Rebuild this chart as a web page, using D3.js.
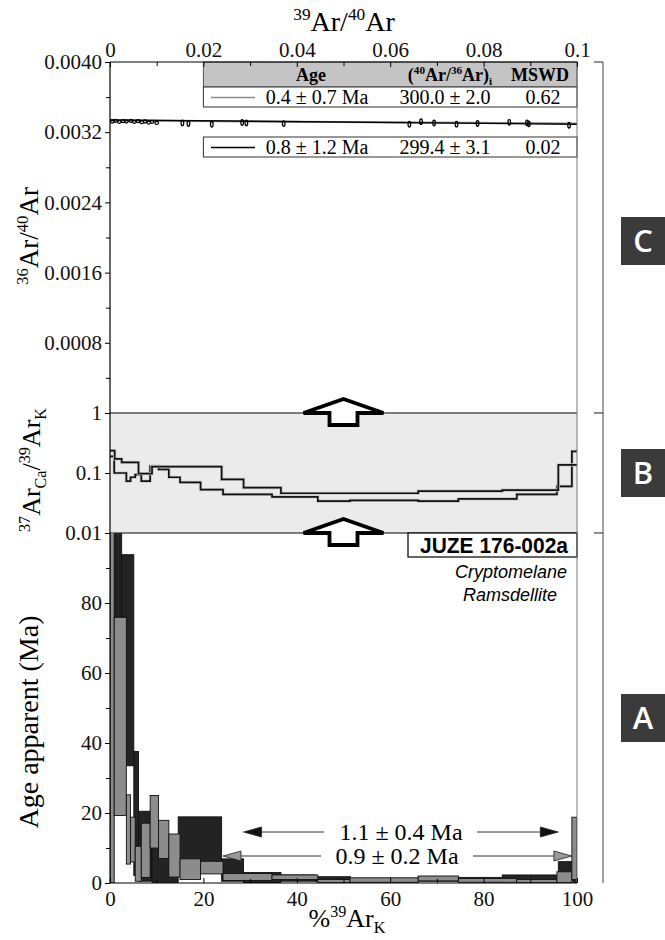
<!DOCTYPE html>
<html><head><meta charset="utf-8">
<script src="https://cdn.jsdelivr.net/npm/d3@7"></script>
<style>body{margin:0;background:#fff}svg{display:block}
.ax text{font-family:'Liberation Serif','Times New Roman',serif !important;}
</style>
</head><body>
<script>
// ================= DATA =================
// Black experiment: cumulative %39ArK step boundaries, apparent ages (Ma), half widths, Ca/K
const blackBounds = [0,1.0,2.5,5.1,6.1,9.0,14.6,23.9,28.6,36.6,44.0,51.5,66.0,74.5,84.0,96.0,99.3,100];
const blackAge = [80,80,63.65,19.85,10.5,6.55,11.7,3.7,1.5,1.4,1.1,0.8,1.15,1.0,1.4,3.3,1.85];
const blackErr = [50,50,30.15,17.75,10.0,6.35,7.2,3.2,1.5,0.9,0.7,0.5,0.65,0.6,0.9,2.8,1.85];
const blackCaK = [0.236,0.172,0.15,0.15,0.098,0.128,0.128,0.078,0.057,0.046,0.046,0.046,0.05,0.05,0.052,0.137,0.137];

// Gray experiment
const grayBounds = [0,0.9,3.5,4.4,5.4,6.7,8.6,10.4,12.6,15.0,19.4,24.2,34.7,44.5,51.4,66.0,74.6,87.1,95.7,98.9,100];
const grayAge = [65,47.6,15.3,12.4,5.5,9.35,17.5,12.45,7.85,3.95,4.4,1.7,1.65,0.55,0.85,1.3,0.75,0.55,1.65,9.9];
const grayErr = [65,28.3,9.9,6.4,5.0,7.75,7.5,5.45,6.15,2.95,1.8,1.0,0.65,0.45,0.65,0.7,0.55,0.45,1.55,8.9];
const grayCaK = [0.19,0.10,0.073,0.085,0.094,0.073,0.13,0.115,0.085,0.07,0.053,0.044,0.040,0.034,0.035,0.034,0.037,0.044,0.06,0.23];

// Plateau ages
const plateauLabels = ["1.1 ± 0.4 Ma","0.9 ± 0.2 Ma"];
const plateauFrom = [28.6,24.2];
const plateauTo = [96.0,98.9];

// Inverse isochron (panel C)
const isoX = [0.0005,0.0012,0.0020,0.0028,0.0035,0.0045,0.0052,0.0060,0.0068,0.0075,0.0083,0.0090,0.0100,
              0.0155,0.0168,0.0218,0.0283,0.0292,0.0372,0.0641,0.0666,0.0694,0.0742,0.0787,0.0855,0.0893,0.0897,0.0983];
const isoY = [0.003322,0.003330,0.003318,0.003326,0.003322,0.003330,0.003318,0.003326,0.003314,0.003322,0.003310,0.003318,0.003306,
              0.003306,0.003300,0.003290,0.003310,0.003306,0.003298,0.003290,0.003320,0.003305,0.003292,0.003300,0.003312,0.003306,0.003295,0.003280];
const isoAges = ["0.4 ± 0.7 Ma","0.8 ± 1.2 Ma"];
const isoRatios = ["300.0 ± 2.0","299.4 ± 3.1"];
const isoMswd = ["0.62","0.02"];
const isoInitial = [300.0,299.4];
const isoEnd = [0.003300,0.003290];   // 36/40 value of each isochron at 39/40 = 0.1

// Axis ticks
const xTopTicks = [0,0.02,0.04,0.06,0.08,0.1];
const xTopLabels = ["0","0.02","0.04","0.06","0.08","0.1"];
const xTopMinor = [0.01,0.03,0.05,0.07,0.09];
const yCTicks = [0.0008,0.0016,0.0024,0.0032,0.0040];
const yCLabels = ["0.0008","0.0016","0.0024","0.0032","0.0040"];
const yCMinor = [0.0004,0.0012,0.0020,0.0028,0.0036];
const yBTicks = [0.01,0.1,1];
const yBLabels = ["0.01","0.1","1"];
const yATicks = [0,20,40,60,80];
const yAMinor = [10,30,50,70,90];
const xATicks = [0,20,40,60,80,100];
const xAMinor = [10,30,50,70,90];
const panelTags = ["C","B","A"];

// ================= LAYOUT =================
const SERIF = "'Liberation Serif','Times New Roman',serif";
const W = 665, H = 940;
const L = 110, R = 577;
const yTopC = 62, yBotC = 413, yBotB = 533, yBotA = 883;

const svg = d3.select("body").append("svg").attr("width", W).attr("height", H)
  .attr("font-family", SERIF);

const xTop = d3.scaleLinear().domain([0,0.1]).range([L,R]);
const yC = d3.scaleLinear().domain([0,0.004]).range([yBotC,yTopC]);
const yB = d3.scaleLog().domain([0.01,1]).range([yBotB,yBotC]);
const xA = d3.scaleLinear().domain([0,100]).range([L,R]);
const yA = d3.scaleLinear().domain([0,100]).range([yBotA,yBotB]);

function rich(parent, x, y, segs, size, anchor, weight) {
  const t = parent.append("text").attr("x", x).attr("y", y)
    .attr("font-size", size).attr("text-anchor", anchor || "middle")
    .attr("font-family", SERIF).attr("font-weight", weight || "normal");
  let cur = 0;
  segs.forEach(s => {
    const target = s.sup ? -0.38*size : s.sub ? 0.22*size : 0;
    const ts = t.append("tspan").text(s.t).attr("dy", target - cur);
    if (s.sup || s.sub) ts.attr("font-size", size*0.62);
    cur = target;
  });
  return t;
}

// ---------- Panel B background ----------
svg.append("rect").attr("x", L).attr("y", yB(1)).attr("width", R-L).attr("height", yB(0.01)-yB(1))
  .attr("fill", "#ebebeb");

// ---------- Panel C : isochron ----------
svg.append("clipPath").attr("id","clipC").append("rect")
  .attr("x",L).attr("y",yTopC).attr("width",R-L).attr("height",yBotC-yTopC);
const gC = svg.append("g").attr("clip-path","url(#clipC)");
const isoColors = ["#8a8a8a","#000"];
[0,1].forEach(i => {
  gC.append("line").attr("x1", xTop(0)).attr("y1", yC(1/isoInitial[i]))
    .attr("x2", xTop(0.1)).attr("y2", yC(isoEnd[i]))
    .attr("stroke", isoColors[i]).attr("stroke-width", i===0?2:1.4);
});
gC.selectAll("ellipse.pt").data(isoX).join("ellipse")
  .attr("cx", d => xTop(d)).attr("cy", (d,i) => yC(isoY[i]))
  .attr("rx", d => d < 0.011 ? 1.8 : 1.3).attr("ry", d => d < 0.011 ? 1.5 : 2.8)
  .attr("fill","none").attr("stroke","#000").attr("stroke-width",1.3);

// table
const tX0 = xTop(0.02);
const hdr = svg.append("g");
hdr.append("rect").attr("x",tX0).attr("y",yTopC).attr("width",R-tX0).attr("height",25)
  .attr("fill","#c4c4c4").attr("stroke","#555").attr("stroke-width",1);
rich(hdr, 311, 81, [{t:"Age"}], 18, "middle", "bold");
rich(hdr, 450, 81, [{t:"("},{t:"40",sup:true},{t:"Ar/"},{t:"36",sup:true},{t:"Ar)"},{t:"i",sub:true}], 18, "middle", "bold");
rich(hdr, 540, 81, [{t:"MSWD"}], 18, "middle", "bold");
const rowTop = [87, 137];
[0,1].forEach(i => {
  const g = svg.append("g");
  g.append("rect").attr("x",tX0).attr("y",rowTop[i]).attr("width",R-tX0).attr("height",20)
    .attr("fill","#fff").attr("stroke","#333").attr("stroke-width",1);
  g.append("line").attr("x1",211).attr("x2",255).attr("y1",rowTop[i]+10.5).attr("y2",rowTop[i]+10.5)
    .attr("stroke", isoColors[i]).attr("stroke-width", 1.5);
  rich(g, 317, rowTop[i]+16.5, [{t:isoAges[i]}], 20);
  rich(g, 445, rowTop[i]+16.5, [{t:isoRatios[i]}], 20);
  rich(g, 543, rowTop[i]+16.5, [{t:isoMswd[i]}], 20);
});

// ---------- Panel B : Ca/K ----------
function stepPts(bounds, vals) {
  const pts = vals.map((v,i) => [bounds[i], v]);
  pts.push([bounds[bounds.length-1], vals[vals.length-1]]);
  return pts;
}
const lineB = d3.line().x(d => xA(d[0])).y(d => yB(d[1])).curve(d3.curveStepAfter);
[[grayBounds, grayCaK],[blackBounds, blackCaK]].forEach(([b,v]) => {
  svg.append("path").attr("d", lineB(stepPts(b, v)))
    .attr("fill","none").attr("stroke","#c8c8c8").attr("stroke-width",3.2);
  svg.append("path").attr("d", lineB(stepPts(b, v)))
    .attr("fill","none").attr("stroke","#111").attr("stroke-width",1.7);
});

svg.append("line").attr("x1",L).attr("x2",R).attr("y1",yB(1)).attr("y2",yB(1)).attr("stroke","#555").attr("stroke-width",1.4);
svg.append("line").attr("x1",L).attr("x2",R).attr("y1",yB(0.01)).attr("y2",yB(0.01)).attr("stroke","#555").attr("stroke-width",1.4);

// hollow up arrows
function upArrow(cx, baseY) {
  const p = d3.path();
  p.moveTo(cx, baseY-14); p.lineTo(cx+40, baseY); p.lineTo(cx+14, baseY); p.lineTo(cx+14, baseY+12);
  p.lineTo(cx-14, baseY+12); p.lineTo(cx-14, baseY); p.lineTo(cx-40, baseY); p.closePath();
  svg.append("path").attr("d", p.toString()).attr("fill","#fff").attr("stroke","#000")
    .attr("stroke-width",3.8).attr("stroke-linejoin","miter");
}
upArrow(xA(50), yB(1));
upArrow(xA(50), yB(0.01));

// ---------- Panel A : age spectrum ----------
svg.append("clipPath").attr("id","clipA").append("rect")
  .attr("x",L).attr("y",yBotB).attr("width",R-L).attr("height",yBotA-yBotB);
const gA = svg.append("g").attr("clip-path","url(#clipA)");
function steps(bounds, ages, errs, fill) {
  gA.append("g").selectAll("rect").data(ages).join("rect")
    .attr("x", (d,i) => xA(bounds[i]))
    .attr("width", (d,i) => xA(bounds[i+1]) - xA(bounds[i]))
    .attr("y", (d,i) => yA(d + errs[i]))
    .attr("height", (d,i) => yA(d - errs[i]) - yA(d + errs[i]))
    .attr("fill", fill).attr("stroke","#111").attr("stroke-width",0.9);
}
steps(blackBounds, blackAge, blackErr, "#232323");
steps(grayBounds, grayAge, grayErr, "#8c8c8c");

// plateau arrows
const plY = [832, 856];
const plGapL = [324, 321], plGapR = [477, 473];
const plHead = ["#111","#999"];
const plTextX = [401, 397];
[0,1].forEach(i => {
  const x0 = xA(plateauFrom[i]), x1 = xA(plateauTo[i]), y = plY[i];
  const g = svg.append("g");
  g.append("line").attr("x1",x0+18).attr("x2",plGapL[i]).attr("y1",y).attr("y2",y).attr("stroke","#333").attr("stroke-width",1);
  g.append("line").attr("x1",plGapR[i]).attr("x2",x1-18).attr("y1",y).attr("y2",y).attr("stroke","#333").attr("stroke-width",1);
  g.append("path").attr("d",`M${x0},${y}L${x0+18},${y-5}L${x0+18},${y+5}Z`).attr("fill",plHead[i]).attr("stroke","#222").attr("stroke-width",0.8);
  g.append("path").attr("d",`M${x1},${y}L${x1-18},${y-5}L${x1-18},${y+5}Z`).attr("fill",plHead[i]).attr("stroke","#222").attr("stroke-width",0.8);
  rich(g, plTextX[i], y+8, [{t:plateauLabels[i]}], 24);
});

// sample label
svg.append("rect").attr("x",408).attr("y",yBotB).attr("width",R-408).attr("height",24)
  .attr("fill","#fff").attr("stroke","#000").attr("stroke-width",1.2);
svg.append("text").attr("x",568).attr("y",553).attr("text-anchor","end")
  .attr("font-family","'Liberation Sans Narrow','Liberation Sans',sans-serif").attr("font-weight","bold")
  .attr("font-size",22).attr("textLength",148).attr("lengthAdjust","spacingAndGlyphs").text("JUZE 176-002a");
svg.append("text").attr("x",567).attr("y",578).attr("text-anchor","end")
  .attr("font-family","'Liberation Sans',sans-serif").attr("font-style","italic").attr("font-size",18).text("Cryptomelane");
svg.append("text").attr("x",557).attr("y",601).attr("text-anchor","end")
  .attr("font-family","'Liberation Sans',sans-serif").attr("font-style","italic").attr("font-size",18).text("Ramsdellite");

// ---------- Frame & axes ----------
svg.append("line").attr("x1",L).attr("x2",L).attr("y1",yTopC).attr("y2",yBotA).attr("stroke","#000").attr("stroke-width",1.2);
svg.append("line").attr("x1",R).attr("x2",R).attr("y1",yTopC).attr("y2",yBotA).attr("stroke","#777").attr("stroke-width",1);
svg.append("line").attr("x1",L).attr("x2",R).attr("y1",yTopC).attr("y2",yTopC).attr("stroke","#000").attr("stroke-width",1.2);
svg.append("line").attr("x1",L).attr("x2",R).attr("y1",yBotA).attr("y2",yBotA).attr("stroke","#000").attr("stroke-width",1.2);

function styleAxis(g) {
  g.attr("class","ax");
  g.select(".domain").remove();
  g.attr("font-family", SERIF).attr("font-size", 21);
  g.selectAll("text").attr("font-family", SERIF).style("font-family", SERIF).attr("font-size", 21).attr("fill","#111");
  g.selectAll("line").attr("stroke","#000");
}
svg.append("g").attr("transform",`translate(0,${yTopC})`)
  .call(d3.axisTop(xTop).tickValues(xTopTicks).tickFormat((d,i)=>xTopLabels[i]).tickSizeInner(-5).tickSizeOuter(0).tickPadding(5))
  .call(styleAxis);
svg.append("g").attr("transform",`translate(0,${yTopC})`)
  .call(d3.axisTop(xTop).tickValues(xTopMinor).tickFormat("").tickSizeInner(-4).tickSizeOuter(0))
  .call(styleAxis);
svg.append("g").attr("transform",`translate(${L},0)`)
  .call(d3.axisLeft(yC).tickValues(yCTicks).tickFormat((d,i)=>yCLabels[i]).tickSize(5).tickPadding(3))
  .call(styleAxis);
svg.append("g").attr("transform",`translate(${L},0)`)
  .call(d3.axisLeft(yC).tickValues(yCMinor).tickFormat("").tickSize(4))
  .call(styleAxis);
svg.append("g").attr("transform",`translate(${L},0)`)
  .call(d3.axisLeft(yB).tickValues(yBTicks).tickFormat((d,i)=>yBLabels[i]).tickSize(5).tickPadding(3))
  .call(styleAxis);
svg.append("g").attr("transform",`translate(${L},0)`)
  .call(d3.axisLeft(yA).tickValues(yATicks).tickFormat(d3.format("d")).tickSize(5).tickPadding(3))
  .call(styleAxis);
svg.append("g").attr("transform",`translate(${L},0)`)
  .call(d3.axisLeft(yA).tickValues(yAMinor).tickFormat("").tickSize(4))
  .call(styleAxis);
svg.append("g").attr("transform",`translate(0,${yBotA})`)
  .call(d3.axisBottom(xA).tickValues(xATicks).tickFormat(d3.format("d")).tickSizeInner(-5).tickSizeOuter(0).tickPadding(8))
  .call(styleAxis);
svg.append("g").attr("transform",`translate(0,${yBotA})`)
  .call(d3.axisBottom(xA).tickValues(xAMinor).tickFormat("").tickSizeInner(-4).tickSizeOuter(0))
  .call(styleAxis);

// axis titles
rich(svg, 344, 31, [{t:"39",sup:true},{t:"Ar/"},{t:"40",sup:true},{t:"Ar"}], 28);
rich(svg, 347, 927, [{t:"%"},{t:"39",sup:true},{t:"Ar"},{t:"K",sub:true}], 26);
rich(svg.append("g").attr("transform","translate(38,236) rotate(-90)"), 0, 0,
  [{t:"36",sup:true},{t:"Ar/"},{t:"40",sup:true},{t:"Ar"}], 27);
rich(svg.append("g").attr("transform","translate(40,470) rotate(-90)"), 0, 0,
  [{t:"37",sup:true},{t:"Ar"},{t:"Ca",sub:true},{t:"/"},{t:"39",sup:true},{t:"Ar"},{t:"K",sub:true}], 26);
rich(svg.append("g").attr("transform","translate(38,722) rotate(-90)"), 0, 0,
  [{t:"Age apparent (Ma)"}], 28);

// right bracket and panel tags
const bx = 603;
svg.append("line").attr("x1",bx).attr("x2",bx).attr("y1",yTopC).attr("y2",yBotA).attr("stroke","#444").attr("stroke-width",1);
[yTopC, yBotC, yBotB].forEach(y => svg.append("line").attr("x1",594).attr("x2",bx).attr("y1",y).attr("y2",y).attr("stroke","#444").attr("stroke-width",1.2));
const tagY = [241, 473, 718];
panelTags.forEach((t,i) => {
  svg.append("rect").attr("x",621).attr("y",tagY[i]-24).attr("width",46).attr("height",48).attr("fill","#3b3b3b");
  svg.append("text").attr("x",643).attr("y",tagY[i]+11).attr("text-anchor","middle")
    .attr("font-family","'Open Sans','Liberation Sans',sans-serif").attr("font-weight","600")
    .attr("font-size",31).attr("fill","#fff").text(t);
});
</script>
</body></html>
